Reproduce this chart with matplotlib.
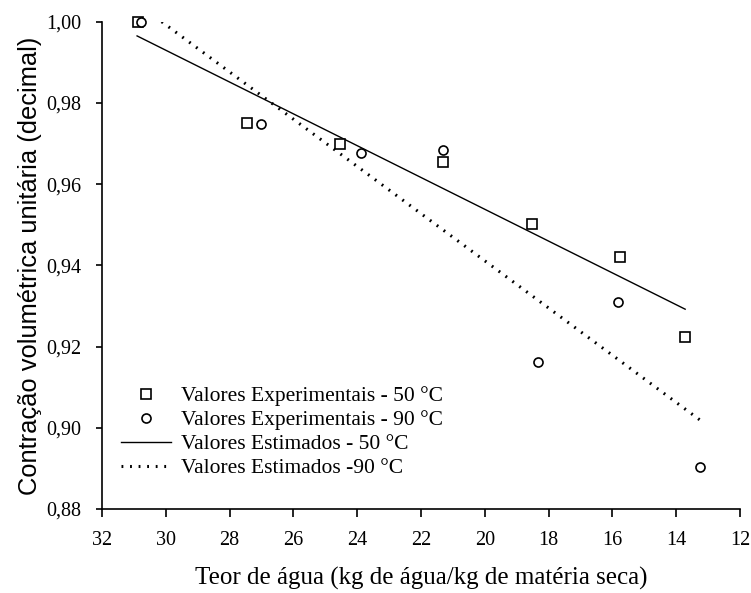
import matplotlib
matplotlib.use("Agg")
import matplotlib.pyplot as plt

plt.rcParams['font.family'] = ['Liberation Serif', 'DejaVu Serif']

# Experimental data
x_exp50 = [30.87, 27.45, 24.54, 21.31, 18.51, 15.76, 13.72]
y_exp50 = [1.000, 0.975, 0.970, 0.9654, 0.9502, 0.942, 0.9224]
x_exp90 = [30.78, 27.02, 23.88, 21.31, 18.34, 15.81, 13.25]
y_exp90 = [1.000, 0.9748, 0.9677, 0.9684, 0.9163, 0.931, 0.8904]

# Estimated (fitted) lines, endpoints
x_est50 = [30.9, 13.72]
y_est50 = [0.9965, 0.9292]
x_est90 = [30.13, 13.22]
y_est90 = [1.000, 0.9017]

x_ticks = [32, 30, 28, 26, 24, 22, 20, 18, 16, 14, 12]
y_ticks = [0.88, 0.90, 0.92, 0.94, 0.96, 0.98, 1.00]

labels = ["Valores Experimentais - 50 °C",
          "Valores Experimentais - 90 °C",
          "Valores Estimados - 50 °C",
          "Valores Estimados -90 °C"]

fig = plt.figure(figsize=(7.51, 5.93), dpi=100)
ax = fig.add_axes([0.1358, 0.1417, 0.8496, 0.8217])

ax.plot(x_exp50, y_exp50, linestyle='none', marker='s', markersize=7.5,
        markerfacecolor='white', markeredgecolor='black', markeredgewidth=1.2,
        label=labels[0], zorder=3, clip_on=False)
ax.plot(x_exp90, y_exp90, linestyle='none', marker='o', markersize=6.5,
        markerfacecolor='white', markeredgecolor='black', markeredgewidth=1.2,
        label=labels[1], zorder=3, clip_on=False)
ax.plot(x_est50, y_est50, color='black', linewidth=1.0, label=labels[2])
ax.plot(x_est90, y_est90, color='black', linewidth=2.2,
        linestyle=(0, (0.6, 2.2)), label=labels[3])

ax.set_xlim(32, 12)
ax.set_ylim(0.88, 1.00)
ax.set_xticks(x_ticks)
ax.set_xticklabels([str(t) for t in x_ticks])
ax.set_yticks(y_ticks)
ax.set_yticklabels([f"{t:.2f}".replace('.', ',') for t in y_ticks])

for s in ['top', 'right']:
    ax.spines[s].set_visible(False)
for s in ['left', 'bottom']:
    ax.spines[s].set_linewidth(1.2)
    ax.spines[s].set_color('black')

ax.tick_params(axis='x', direction='out', length=6, width=1.2, labelsize=14.5, pad=10)
ax.tick_params(axis='y', direction='out', length=4, width=1.2, labelsize=14.5, pad=11)

ax.set_xlabel("Teor de água (kg de água/kg de matéria seca)", fontsize=18, labelpad=12)
ax.set_ylabel("Contração volumétrica unitária (decimal)", fontsize=18.4,
              family=['Liberation Sans', 'DejaVu Sans'], labelpad=3)

leg = ax.legend(loc='upper left', bbox_to_anchor=(0.03, 0.252), frameon=False,
                fontsize=15.5, handlelength=2.3, handletextpad=0.5,
                labelspacing=0.18, borderaxespad=0, borderpad=0)

fig.savefig("out.png", dpi=100)
